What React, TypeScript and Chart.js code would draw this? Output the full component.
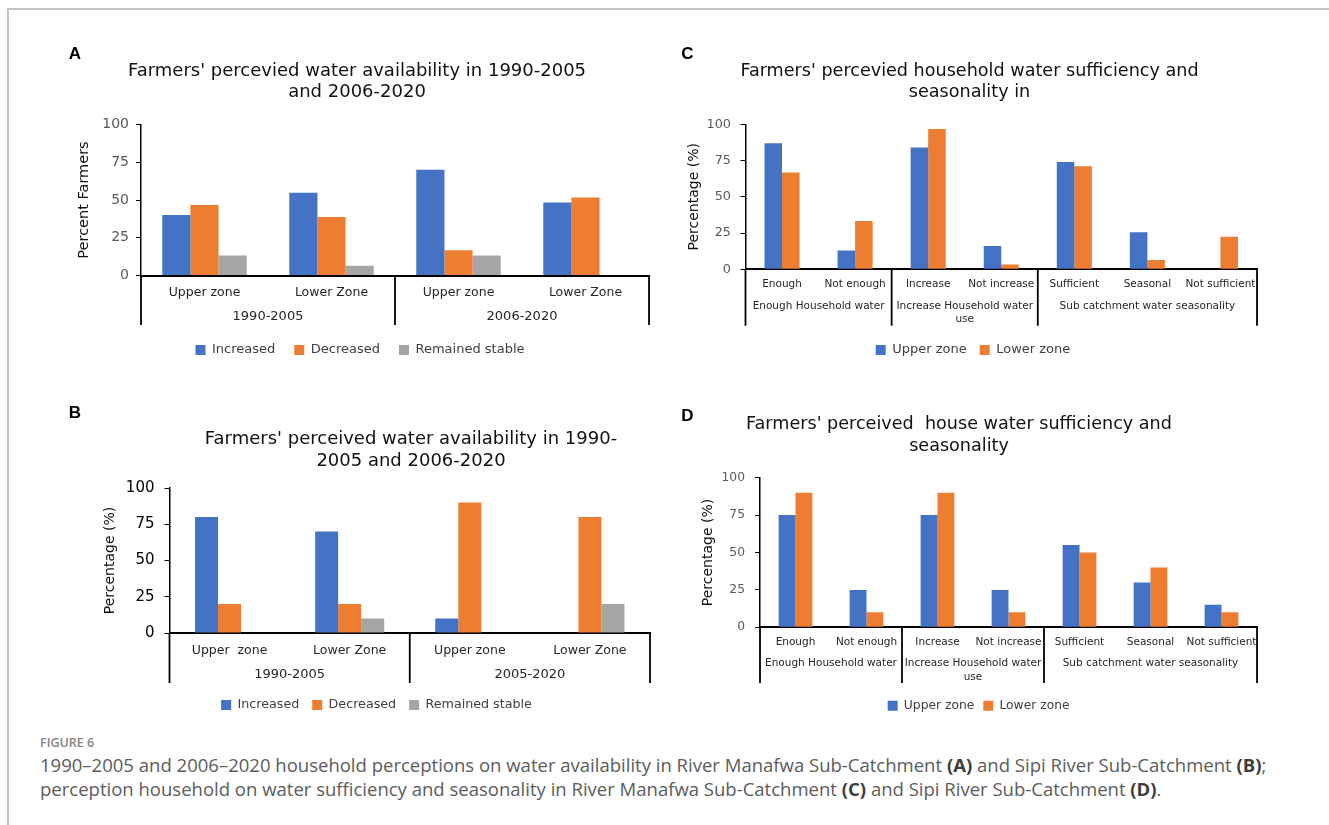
import { useEffect, useRef } from "react";
import { Chart, registerables } from "chart.js";

Chart.register(...registerables);

const BLUE = "#4472C4";
const ORANGE = "#ED7D31";
const GREY = "#A5A5A5";
const FONT = "'DejaVu Sans', Verdana, sans-serif";
const CAPTION_FONT = "'Open Sans', 'Liberation Sans', sans-serif";

// (A) River Manafwa: perceived water availability, two periods
const aZones = ["Upper zone", "Lower Zone", "Upper zone", "Lower Zone"];
const aPeriods = ["1990-2005", "2006-2020"];
const aIncreased = [40, 54.8, 70, 48.4];
const aDecreased = [46.7, 38.7, 16.7, 51.6];
const aStable = [13.3, 6.5, 13.3, 0];

// (B) Sipi River: perceived water availability, two periods
const bZones = ["Upper  zone", "Lower Zone", "Upper zone", "Lower Zone"];
const bPeriods = ["1990-2005", "2005-2020"];
const bIncreased = [80, 70, 10, 0];
const bDecreased = [20, 20, 90, 80];
const bStable = [0, 10, 0, 20];

// Period grouping shared by A and B
const periodSpans = [2, 2];

// (C) and (D): household water sufficiency and seasonality
const responses = ["Enough", "Not enough", "Increase", "Not increase", "Sufficient", "Seasonal", "Not sufficient"];
const questions = [["Enough Household water"], ["Increase Household water", "use"], ["Sub catchment water seasonality"]];
const questionSpans = [2, 2, 3];
const cUpper = [87, 13, 84, 16, 74, 25.5, 0];
const cLower = [66.7, 33.3, 96.7, 3.3, 71, 6.5, 22.5];
const dUpper = [75, 25, 75, 25, 55, 30, 15];
const dLower = [90, 10, 90, 10, 50, 40, 10];

const yTicks = [0, 25, 50, 75, 100];

// Figure caption
const captionLabel = "FIGURE 6";
const captionLine1 = [
  "1990–2005 and 2006–2020 household perceptions on water availability in River Manafwa Sub-Catchment ",
  "(A)",
  " and Sipi River Sub-Catchment ",
  "(B)",
  ";",
];
const captionLine2 = [
  "perception household on water sufficiency and seasonality in River Manafwa Sub-Catchment ",
  "(C)",
  " and Sipi River Sub-Catchment ",
  "(D)",
  ".",
];

type Series = { label: string; data: number[]; color: string };

type PanelSpec = {
  letter: string;
  letterX: number;
  letterY: number;
  left: number;
  top: number;
  right: number;
  area: { left: number; right: number; top: number; bottom: number };
  title: string[];
  titleX: number;
  titleY: number;
  titleGap: number;
  titleSize: number;
  yTitle: string;
  yTitleX: number;
  yTitleSize: number;
  tickSize: number;
  tickColor: string;
  tickPad: number;
  categories: string[];
  catSize: number;
  catY: number;
  groups: string[][];
  spans: number[];
  groupSize: number;
  groupY: number;
  groupGap: number;
  bracketBottom: number;
  series: Series[];
  barFrac: number;
  legendSize: number;
  legendY: number;
  legendX: number;
  legendPad: number;
};

const panels: PanelSpec[] = [
  {
    letter: "A", letterX: 75, letterY: 54,
    left: 60, top: 38, right: 660,
    area: { left: 141, right: 649, top: 124.5, bottom: 275.5 },
    title: ["Farmers' percevied water availability in 1990-2005", "and 2006-2020"],
    titleX: 357, titleY: 71, titleGap: 21, titleSize: 18,
    yTitle: "Percent Farmers", yTitleX: 84, yTitleSize: 14.5,
    tickSize: 14, tickColor: "#595959", tickPad: 7,
    categories: aZones, catSize: 12.5, catY: 293,
    groups: aPeriods.map((p) => [p]), spans: periodSpans, groupSize: 13, groupY: 317, groupGap: 14, bracketBottom: 325,
    series: [
      { label: "Increased", data: aIncreased, color: BLUE },
      { label: "Decreased", data: aDecreased, color: ORANGE },
      { label: "Remained stable", data: aStable, color: GREY },
    ],
    barFrac: 0.665,
    legendSize: 13, legendY: 350, legendX: 360, legendPad: 19,
  },
  {
    letter: "B", letterX: 75, letterY: 413,
    left: 60, top: 398, right: 661,
    area: { left: 169.5, right: 650, top: 488, bottom: 633 },
    title: ["Farmers' perceived water availability in 1990-", "2005 and 2006-2020"],
    titleX: 411, titleY: 439, titleGap: 22, titleSize: 18,
    yTitle: "Percentage (%)", yTitleX: 110, yTitleSize: 14,
    tickSize: 15, tickColor: "#000000", tickPad: 10,
    categories: bZones, catSize: 12.5, catY: 651,
    groups: bPeriods.map((p) => [p]), spans: periodSpans, groupSize: 13, groupY: 675, groupGap: 14, bracketBottom: 683,
    series: [
      { label: "Increased", data: bIncreased, color: BLUE },
      { label: "Decreased", data: bDecreased, color: ORANGE },
      { label: "Remained stable", data: bStable, color: GREY },
    ],
    barFrac: 0.575,
    legendSize: 12.7, legendY: 705, legendX: 376.5, legendPad: 13,
  },
  {
    letter: "C", letterX: 687.5, letterY: 54,
    left: 675, top: 38, right: 1273,
    area: { left: 745.5, right: 1257, top: 124.3, bottom: 269.3 },
    title: ["Farmers' percevied household water sufficiency and", "seasonality in"],
    titleX: 969.5, titleY: 71, titleGap: 21, titleSize: 17.6,
    yTitle: "Percentage (%)", yTitleX: 694, yTitleSize: 14,
    tickSize: 12.8, tickColor: "#595959", tickPad: 9.5,
    categories: responses, catSize: 10.5, catY: 284,
    groups: questions, spans: questionSpans, groupSize: 10.5, groupY: 306, groupGap: 13, bracketBottom: 325.7,
    series: [
      { label: "Upper zone", data: cUpper, color: BLUE },
      { label: "Lower zone", data: cLower, color: ORANGE },
    ],
    barFrac: 0.48,
    legendSize: 13, legendY: 350, legendX: 973, legendPad: 13,
  },
  {
    letter: "D", letterX: 687.5, letterY: 416.7,
    left: 675, top: 398, right: 1273,
    area: { left: 760, right: 1257, top: 477.7, bottom: 627.3 },
    title: ["Farmers' perceived  house water sufficiency and", "seasonality"],
    titleX: 959, titleY: 424, titleGap: 22, titleSize: 17.6,
    yTitle: "Percentage (%)", yTitleX: 708.7, yTitleSize: 14,
    tickSize: 12.3, tickColor: "#595959", tickPad: 10,
    categories: responses, catSize: 10.5, catY: 642,
    groups: questions, spans: questionSpans, groupSize: 10.5, groupY: 663, groupGap: 14, bracketBottom: 683,
    series: [
      { label: "Upper zone", data: dUpper, color: BLUE },
      { label: "Lower zone", data: dLower, color: ORANGE },
    ],
    barFrac: 0.475,
    legendSize: 12.3, legendY: 705.7, legendX: 978.6, legendPad: 9,
  },
];

function Panel({ spec }: { spec: PanelSpec }) {
  const ref = useRef<HTMLCanvasElement>(null);
  const s = spec;
  const L = s.left;
  const T = s.top;
  const bottom = s.legendY + 10 + s.legendSize / 2;
  const W = s.right - L;
  const H = Math.ceil(bottom - T);

  useEffect(() => {
    const canvas = ref.current;
    if (!canvas) return;
    const a = s.area;
    // left edge (page x) of the full-width legend box, so that it centres on legendX
    const boxLeft = 2 * s.legendX - a.right;
    const padLeft = boxLeft - L;
    const padRight = s.right - a.right;
    const padBottom = H - (bottom - T);
    const yWidth = a.left - boxLeft;
    const legendH = s.legendSize + s.legendPad + 10;
    const xHeight = bottom - legendH - a.bottom;
    const padTop = a.top - T;
    const xTickPad = s.catY - a.bottom - (s.catSize * 1.2) / 2;
    const yTitlePad = s.yTitleX - boxLeft - (s.yTitleSize * 1.2) / 2;

    const decor = {
      id: "panelDecor",
      afterDraw(chart: Chart) {
        const ctx = chart.ctx;
        const xs = chart.scales.x;
        ctx.save();
        // panel letter
        ctx.fillStyle = "#000";
        ctx.font = "bold 17px 'Liberation Sans', Arial, sans-serif";
        ctx.textAlign = "center";
        ctx.textBaseline = "middle";
        ctx.fillText(s.letter, s.letterX - L, s.letterY - T);
        // chart title
        ctx.font = `${s.titleSize}px ${FONT}`;
        ctx.fillStyle = "#111";
        s.title.forEach((line, i) => {
          ctx.fillText(line, s.titleX - L, s.titleY - T + i * s.titleGap);
        });
        // outer category level: divider lines and group names
        const top = xs.top;
        const bracketY = s.bracketBottom - T;
        ctx.strokeStyle = "#000";
        ctx.lineWidth = 1.8;
        let idx = 0;
        const edges = [xs.getPixelForValue(-0.5)];
        s.spans.forEach((span) => {
          idx += span;
          edges.push(xs.getPixelForValue(idx - 0.5));
        });
        ctx.beginPath();
        edges.forEach((e) => {
          ctx.moveTo(e, top);
          ctx.lineTo(e, bracketY);
        });
        ctx.stroke();
        ctx.font = `${s.groupSize}px ${FONT}`;
        ctx.fillStyle = "#262626";
        s.groups.forEach((lines, g) => {
          const cx = (edges[g] + edges[g + 1]) / 2;
          lines.forEach((line, i) => {
            ctx.fillText(line, cx, s.groupY - T + i * s.groupGap);
          });
        });
        ctx.restore();
      },
    };

    const chart = new Chart(canvas, {
      type: "bar",
      data: {
        labels: s.categories,
        datasets: s.series.map((d) => ({
          label: d.label,
          data: d.data,
          backgroundColor: d.color,
          borderWidth: 0,
          categoryPercentage: s.barFrac,
          barPercentage: 1,
        })),
      },
      options: {
        responsive: false,
        animation: false,
        devicePixelRatio: 1,
        layout: { padding: { left: padLeft, right: padRight, top: padTop, bottom: padBottom } },
        plugins: {
          title: { display: false },
          tooltip: { enabled: false },
          legend: {
            position: "bottom",
            labels: {
              boxWidth: 10,
              boxHeight: 10,
              padding: s.legendPad,
              color: "#404040",
              font: { family: FONT, size: s.legendSize },
            },
          },
        },
        scales: {
          x: {
            z: 1,
            grid: { display: false, drawTicks: false },
            border: { display: true, color: "#000", width: 2 },
            ticks: {
              color: "#262626",
              font: { family: FONT, size: s.catSize },
              padding: xTickPad,
              autoSkip: false,
              maxRotation: 0,
              minRotation: 0,
            },
            afterFit: (sc: any) => {
              sc.height = xHeight;
            },
          },
          y: {
            min: 0,
            max: 100,
            afterBuildTicks: (sc: any) => {
              sc.ticks = yTicks.map((v) => ({ value: v }));
            },
            ticks: {
              color: s.tickColor,
              font: { family: FONT, size: s.tickSize },
              padding: s.tickPad,
            },
            grid: { drawOnChartArea: false, drawTicks: true, tickLength: 5, color: "#000", lineWidth: 1 },
            border: { display: true, color: "#000", width: 1.5 },
            title: {
              display: true,
              text: s.yTitle,
              color: "#111",
              font: { family: FONT, size: s.yTitleSize },
              padding: { top: yTitlePad, bottom: 0 },
            },
            afterFit: (sc: any) => {
              sc.width = yWidth;
            },
          },
        },
      },
      plugins: [decor],
    });
    return () => chart.destroy();
  }, []);

  return (
    <canvas
      ref={ref}
      width={W}
      height={H}
      style={{ position: "absolute", left: L, top: T, width: W, height: H }}
    />
  );
}

// Caption size chosen so the first caption line spans the figure width (about 1222px)
function captionSize(): number {
  const ctx = document.createElement("canvas").getContext("2d");
  if (!ctx) return 16;
  ctx.font = `100px ${CAPTION_FONT}`;
  const w = ctx.measureText(captionLine1.join("")).width;
  return w > 0 ? Math.min(19, Math.max(13, (100 * 1222) / w)) : 16;
}

function CaptionLine({ parts }: { parts: string[] }) {
  return (
    <div>
      {parts.map((p, i) =>
        i % 2 === 1 ? (
          <b key={i} style={{ color: "#3d3d3d", fontWeight: 700 }}>
            {p}
          </b>
        ) : (
          <span key={i}>{p}</span>
        )
      )}
    </div>
  );
}

export default function App() {
  const size = captionSize();
  return (
    <div
      style={{
        position: "absolute",
        left: 0,
        top: 0,
        width: 1329,
        height: 825,
        background: "#fff",
        overflow: "hidden",
      }}
    >
      <div style={{ position: "absolute", left: 7, top: 8, width: 1322, height: 2, background: "#c4c4c4" }} />
      <div style={{ position: "absolute", left: 7, top: 8, width: 2, height: 817, background: "#c4c4c4" }} />
      {panels.map((p) => (
        <Panel key={p.letter} spec={p} />
      ))}
      <div
        style={{
          position: "absolute",
          left: 40,
          top: 734,
          font: `600 12.5px ${CAPTION_FONT}`,
          color: "#858585",
        }}
      >
        {captionLabel}
      </div>
      <div
        style={{
          position: "absolute",
          left: 40,
          top: 753,
          font: `${size}px/24px ${CAPTION_FONT}`,
          color: "#5c5c5c",
          whiteSpace: "nowrap",
        }}
      >
        <CaptionLine parts={captionLine1} />
        <CaptionLine parts={captionLine2} />
      </div>
    </div>
  );
}
